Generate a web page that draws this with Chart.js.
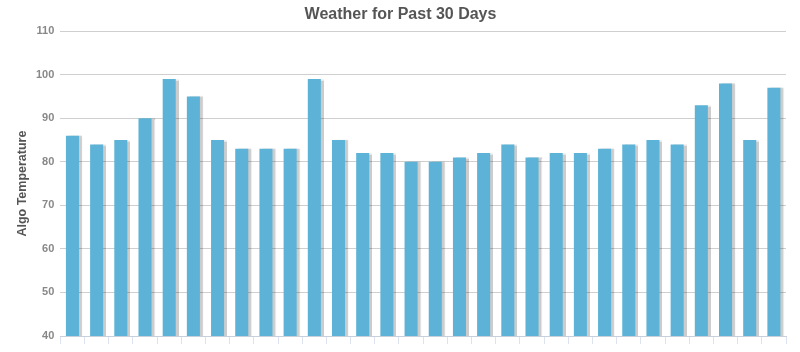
<!DOCTYPE html>
<html>
<head>
<meta charset="utf-8">
<script src="https://cdn.jsdelivr.net/npm/chart.js@4"></script>
<style>
  html, body { margin: 0; padding: 0; background: #fff; }
  #wrap { width: 800px; height: 352px; }
</style>
</head>
<body>
<div id="wrap"><canvas id="chart"></canvas></div>
<script>
var days = [];
for (var i = 1; i <= 30; i++) days.push("Day " + i);
var temps = [86, 84, 85, 90, 99, 95, 85, 83, 83, 83,
             99, 85, 82, 82, 80, 80, 81, 82, 84, 81,
             82, 82, 83, 84, 85, 84, 93, 98, 85, 97];
var yTicks = [40, 50, 60, 70, 80, 90, 100, 110];

// grey drop shadow on the right side of each bar
var barShadow = {
    id: 'barShadow',
    beforeDatasetsDraw: function(chart) {
        var ctx = chart.ctx;
        ctx.save();
        ctx.shadowColor = 'rgba(0,0,0,0.2)';
        ctx.shadowOffsetX = 3;
        ctx.shadowOffsetY = 0;
        ctx.shadowBlur = 1;
    },
    afterDatasetsDraw: function(chart) {
        chart.ctx.restore();
    }
};

var ctx = document.getElementById("chart");
var chart = new Chart(ctx, {
    type: 'bar',
    data: {
        labels: days,
        datasets: [{
            data: temps,
            backgroundColor: "#5db3d7",
            barPercentage: 0.54,
            categoryPercentage: 1
        }]
    },
    options: {
        responsive: true,
        maintainAspectRatio: false,
        animation: false,
        layout: { padding: { left: 15, right: 14, top: 0, bottom: 8 } },
        plugins: {
            legend: { display: false },
            tooltip: { enabled: false },
            title: {
                display: true,
                text: "Weather for Past 30 Days",
                color: "#555",
                font: { family: "Liberation Sans", size: 16, weight: "bold" },
                padding: { top: 5, bottom: 7 }
            }
        },
        scales: {
            x: {
                grid: {
                    display: true,
                    offset: true,
                    drawOnChartArea: false,
                    drawTicks: true,
                    tickLength: 8,
                    color: "#dde3ee"
                },
                border: { color: "#c8d0dc" },
                ticks: { display: false }
            },
            y: {
                min: 40,
                max: 110,
                afterBuildTicks: function(axis) {
                    axis.ticks = yTicks.map(function(v) { return { value: v }; });
                },
                grid: { color: "#cfcfcf", drawTicks: false },
                border: { display: false },
                ticks: {
                    color: "#888",
                    padding: 6,
                    font: { family: "Liberation Sans", size: 11, weight: "bold" }
                },
                title: {
                    display: true,
                    text: "Algo Temperature",
                    color: "#555",
                    font: { family: "Liberation Sans", size: 12.5, weight: "bold" },
                    padding: { top: 0, bottom: 0 }
                }
            }
        }
    },
    plugins: [barShadow]
});
</script>
</body>
</html>
